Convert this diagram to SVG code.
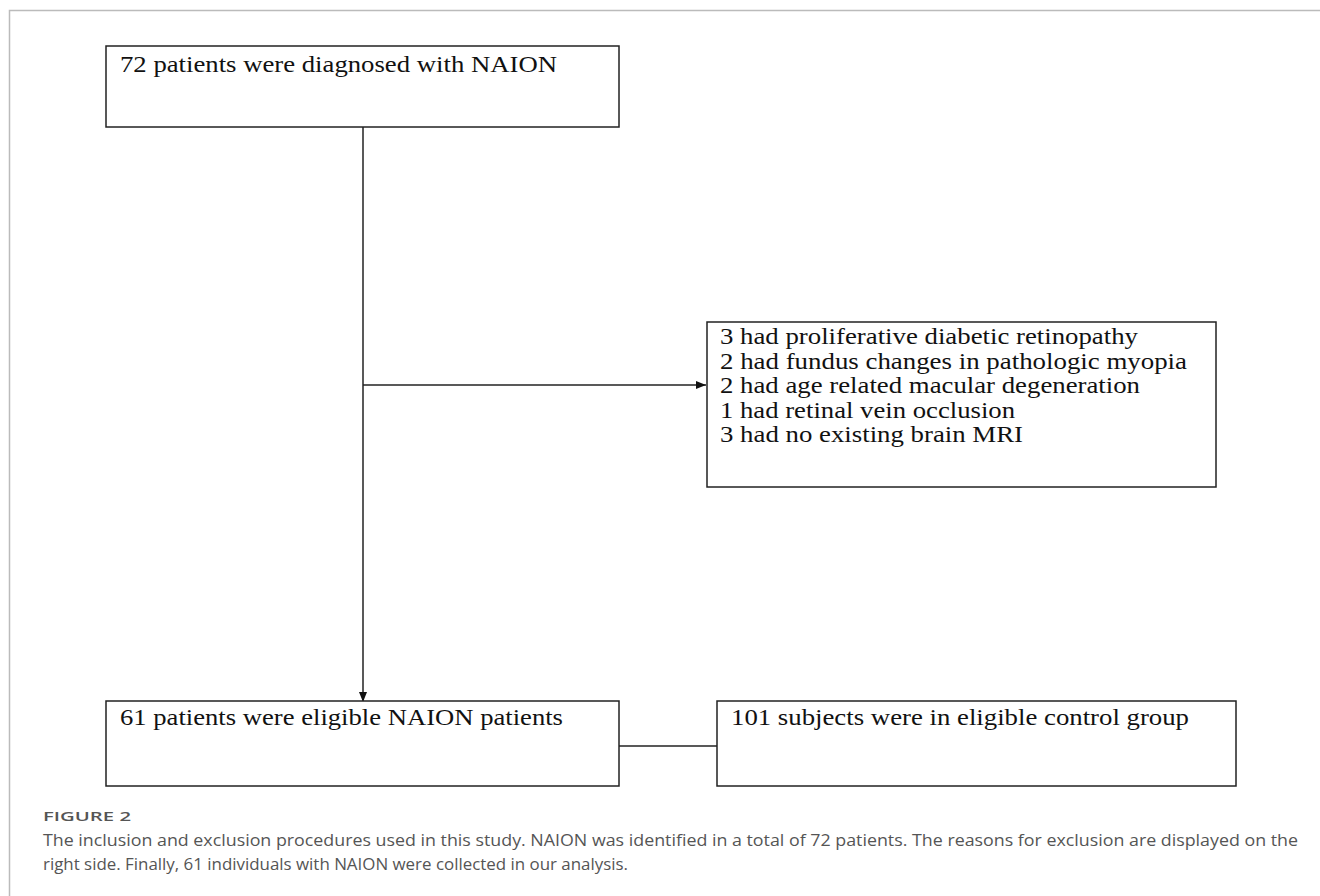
<svg xmlns="http://www.w3.org/2000/svg" width="1320" height="896" viewBox="0 0 1320 896">
<style>
.box{fill:#fff;stroke:#222;stroke-width:1.5}
.t{font-family:"Liberation Serif","Times New Roman",serif;font-size:24px;fill:#111}
.c{fill:none;stroke:#222;stroke-width:1.5}
.cap{font-family:"Open Sans","Noto Sans",sans-serif;fill:#555}
</style>
<defs>
<marker id="ah" viewBox="0 0 10 10" refX="10" refY="5" markerWidth="10" markerHeight="10" markerUnits="userSpaceOnUse" orient="auto">
<path d="M0,1 L10,5 L0,9 Z" fill="#111"/>
</marker>
</defs>
<rect x="0" y="0" width="1320" height="896" fill="#fff"/>
<path d="M9.5,896 V10.5 H1320" fill="none" stroke="#bbb" stroke-width="1.5"/>
<g id="connectors">
<path class="c" d="M363,127 V702" marker-end="url(#ah)"/>
<path class="c" d="M363,385 H706" marker-end="url(#ah)"/>
<path class="c" d="M619,746 H717"/>
</g>
<g id="n1">
<rect class="box" x="106" y="46" width="513" height="81"/>
<text class="t" x="120" y="72" textLength="437" lengthAdjust="spacingAndGlyphs">72 patients were diagnosed with NAION</text>
</g>
<g id="n2">
<rect class="box" x="707" y="322" width="509" height="165"/>
<text class="t" x="720" y="344" textLength="418" lengthAdjust="spacingAndGlyphs">3 had proliferative diabetic retinopathy</text>
<text class="t" x="720" y="368.5" textLength="467" lengthAdjust="spacingAndGlyphs">2 had fundus changes in pathologic myopia</text>
<text class="t" x="720" y="393" textLength="420" lengthAdjust="spacingAndGlyphs">2 had age related macular degeneration</text>
<text class="t" x="720" y="417.5" textLength="295" lengthAdjust="spacingAndGlyphs">1 had retinal vein occlusion</text>
<text class="t" x="720" y="442" textLength="303" lengthAdjust="spacingAndGlyphs">3 had no existing brain MRI</text>
</g>
<g id="n3">
<rect class="box" x="106" y="701" width="513" height="85"/>
<text class="t" x="120" y="725" textLength="443" lengthAdjust="spacingAndGlyphs">61 patients were eligible NAION patients</text>
</g>
<g id="n4">
<rect class="box" x="717" y="701" width="519" height="85"/>
<text class="t" x="731" y="725" textLength="458" lengthAdjust="spacingAndGlyphs">101 subjects were in eligible control group</text>
</g>
<text class="cap" x="43" y="821" font-size="13" font-weight="600" fill="#666" textLength="88" lengthAdjust="spacingAndGlyphs">FIGURE 2</text>
<text class="cap" x="43" y="846" font-size="16" textLength="1255" lengthAdjust="spacingAndGlyphs">The inclusion and exclusion procedures used in this study. NAION was identified in a total of 72 patients. The reasons for exclusion are displayed on the</text>
<text class="cap" x="43" y="870" font-size="16" textLength="585" lengthAdjust="spacingAndGlyphs">right side. Finally, 61 individuals with NAION were collected in our analysis.</text>
</svg>
